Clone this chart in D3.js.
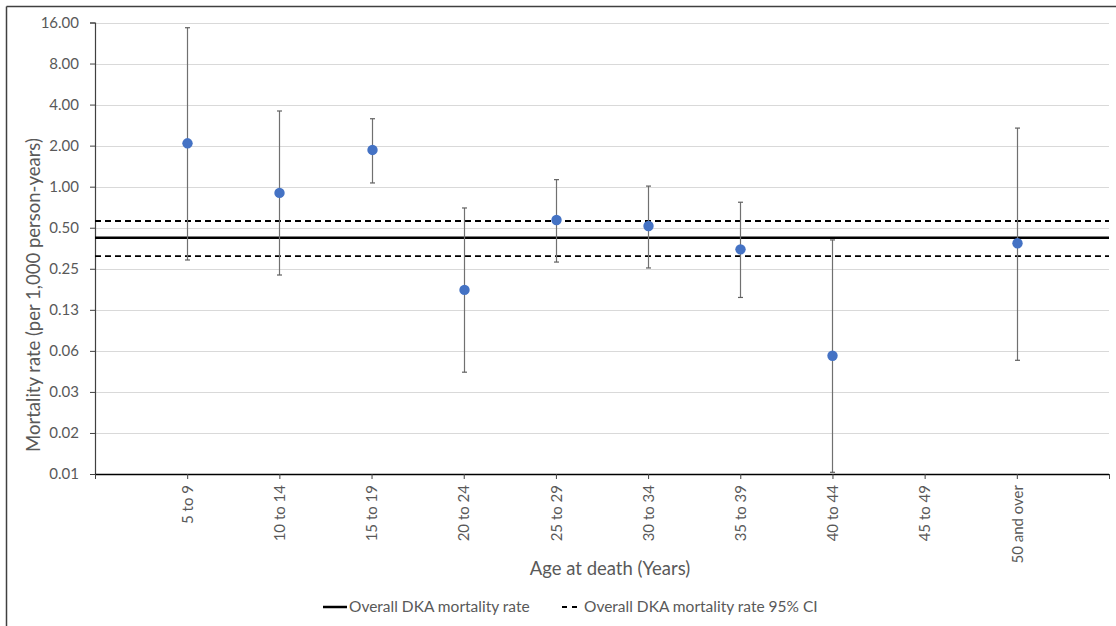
<!DOCTYPE html>
<html>
<head>
<meta charset="utf-8">
<script src="https://cdn.jsdelivr.net/npm/d3@7"></script>
<style>
  html, body { margin: 0; padding: 0; background: #fff; }
  svg { display: block; font-family: Lato, "Liberation Sans", sans-serif; }
</style>
</head>
<body>
<svg id="chart" width="1116" height="626"></svg>
<script>
// ---- Data ----
const slots = ["_start", "5 to 9", "10 to 14", "15 to 19", "20 to 24", "25 to 29", "30 to 34", "35 to 39", "40 to 44", "45 to 49", "50 and over", "_end"];
const categories = ["5 to 9", "10 to 14", "15 to 19", "20 to 24", "25 to 29", "30 to 34", "35 to 39", "40 to 44", "45 to 49", "50 and over"];
const rateCats = ["5 to 9", "10 to 14", "15 to 19", "20 to 24", "25 to 29", "30 to 34", "35 to 39", "40 to 44", "50 and over"];
const rates = [2.08, 0.90, 1.86, 0.175, 0.57, 0.515, 0.347, 0.0576, 0.385];
const lowerCI = [0.29, 0.225, 1.065, 0.0436, 0.28, 0.2535, 0.154, 0.00804, 0.0533];
const upperCI = [14.65, 3.59, 3.15, 0.698, 1.126, 1.01, 0.769, 0.407, 2.69];
const overallRate = 0.4227;
const overallLower = 0.310;
const overallUpper = 0.560;
const yTicks = [0.0078125, 0.015625, 0.03125, 0.0625, 0.125, 0.25, 0.5, 1, 2, 4, 8, 16];
const yTickLabels = ["0.01", "0.02", "0.03", "0.06", "0.13", "0.25", "0.50", "1.00", "2.00", "4.00", "8.00", "16.00"];

// ---- Layout ----
const svg = d3.select("#chart");
const mLeft = 95, mRight = 1109, mTop = 22.5, mBottom = 474;

const x = d3.scalePoint().domain(slots).range([mLeft, mRight]).padding(0);
const y = d3.scaleLog().base(2).domain([yTicks[0], yTicks[yTicks.length - 1]]).range([mBottom, mTop]);

// outer frame (top + left visible)
svg.append("line").attr("x1", 6.5).attr("x2", 1116).attr("y1", 6.5).attr("y2", 6.5)
  .attr("stroke", "#404040").attr("stroke-width", 1.5);
svg.append("line").attr("x1", 6.5).attr("x2", 6.5).attr("y1", 6.5).attr("y2", 626)
  .attr("stroke", "#404040").attr("stroke-width", 1.5);

// gridlines
svg.append("g").selectAll("line").data(yTicks.slice(1)).join("line")
  .attr("x1", mLeft).attr("x2", mRight)
  .attr("y1", d => Math.round(y(d)) + 0.5).attr("y2", d => Math.round(y(d)) + 0.5)
  .attr("stroke", "#d9d9d9").attr("stroke-width", 1);

// y axis
const yAxis = d3.axisLeft(y).tickValues(yTicks)
  .tickFormat((d, i) => yTickLabels[i]).tickSize(5).tickPadding(11);
const gy = svg.append("g").attr("transform", `translate(${mLeft},0)`).call(yAxis);
gy.select(".domain").attr("stroke", "#404040").attr("stroke-width", 1.2);
gy.selectAll(".tick line").attr("stroke", "#404040");
gy.selectAll(".tick text").attr("fill", "#595959").style("font-size", "15px").style("font-family", "Lato, sans-serif");

// reference lines
svg.append("line").attr("x1", mLeft).attr("x2", mRight)
  .attr("y1", y(overallRate)).attr("y2", y(overallRate))
  .attr("stroke", "#000").attr("stroke-width", 2.5);
[overallLower, overallUpper].forEach(v => {
  svg.append("line").attr("x1", mLeft).attr("x2", mRight)
    .attr("y1", y(v)).attr("y2", y(v))
    .attr("stroke", "#000").attr("stroke-width", 1.8).attr("stroke-dasharray", "6,4");
});

// x axis
const xAxis = d3.axisBottom(x).tickSize(5).tickFormat(d => categories.includes(d) ? d : "");
const gx = svg.append("g").attr("transform", `translate(0,${mBottom})`).call(xAxis);
gx.select(".domain").attr("stroke", "#000").attr("stroke-width", 1.5).attr("d", `M${mLeft},0.5H${mRight}`);
gx.selectAll(".tick line").attr("stroke", "#404040");
gx.selectAll(".tick text")
  .attr("fill", "#595959").style("font-size", "15px").style("font-family", "Lato, sans-serif")
  .attr("text-anchor", "end").attr("dy", "0.35em")
  .attr("transform", "translate(0,11) rotate(-90)")
  .attr("x", 0).attr("y", 0);

// error bars
const pts = rateCats.map((c, i) => ({ c, v: rates[i], lo: lowerCI[i], hi: upperCI[i] }));
const eb = svg.append("g");
eb.selectAll("line.v").data(pts).join("line").attr("class", "v")
  .attr("x1", d => Math.round(x(d.c)) + 0.5).attr("x2", d => Math.round(x(d.c)) + 0.5)
  .attr("y1", d => y(d.hi)).attr("y2", d => y(d.lo))
  .attr("stroke", "#707070").attr("stroke-width", 1.2);
["hi", "lo"].forEach(k => {
  eb.selectAll("line.c" + k).data(pts).join("line").attr("class", "c" + k)
    .attr("x1", d => Math.round(x(d.c)) + 0.5 - 2.5).attr("x2", d => Math.round(x(d.c)) + 0.5 + 2.5)
    .attr("y1", d => y(d[k])).attr("y2", d => y(d[k]))
    .attr("stroke", "#606060").attr("stroke-width", 1.2);
});

// points
svg.append("g").selectAll("circle").data(pts).join("circle")
  .attr("cx", d => Math.round(x(d.c)) + 0.5).attr("cy", d => y(d.v)).attr("r", 5.2)
  .attr("fill", "#4472C4");

// axis titles
svg.append("text").attr("x", 610).attr("y", 575).attr("text-anchor", "middle")
  .attr("fill", "#595959").style("font-size", "18.5px").text("Age at death (Years)");
svg.append("text").attr("transform", "translate(40,295) rotate(-90)").attr("text-anchor", "middle")
  .attr("fill", "#595959").style("font-size", "18.5px").text("Mortality rate (per 1,000 person-years)");

// legend
const ly = 607;
svg.append("line").attr("x1", 323).attr("x2", 347).attr("y1", ly).attr("y2", ly)
  .attr("stroke", "#000").attr("stroke-width", 2.5);
svg.append("text").attr("x", 349).attr("y", ly).attr("dy", "0.35em")
  .attr("fill", "#595959").style("font-size", "15.5px").text("Overall DKA mortality rate");
svg.append("line").attr("x1", 562).attr("x2", 577).attr("y1", ly).attr("y2", ly)
  .attr("stroke", "#000").attr("stroke-width", 1.8).attr("stroke-dasharray", "5,5");
svg.append("text").attr("x", 584).attr("y", ly).attr("dy", "0.35em")
  .attr("fill", "#595959").style("font-size", "15.5px").text("Overall DKA mortality rate 95% CI");
</script>
</body>
</html>
